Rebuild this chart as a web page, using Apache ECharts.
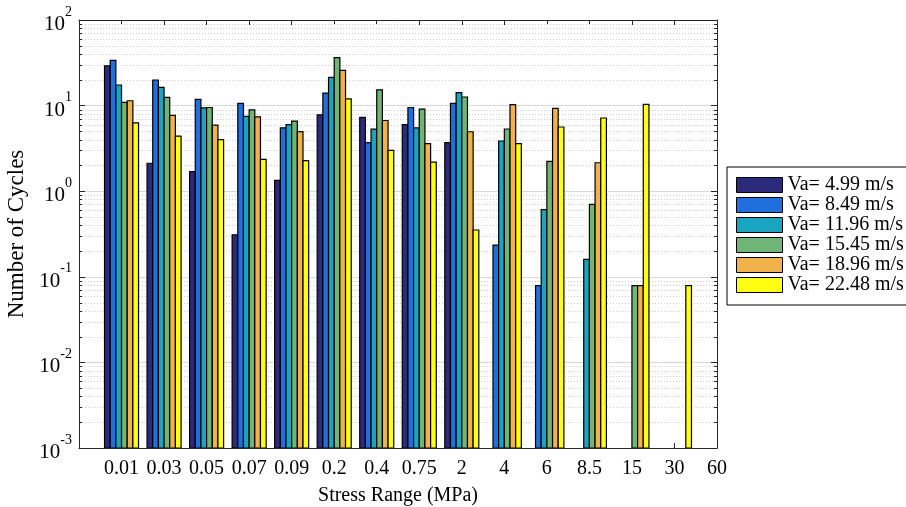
<!DOCTYPE html>
<html>
<head>
<meta charset="utf-8">
<script src="https://cdn.jsdelivr.net/npm/echarts@6/dist/echarts.min.js"></script>
<style>
  html, body { margin: 0; padding: 0; background: #ffffff; }
  #chart { width: 906px; height: 507px; }
</style>
</head>
<body>
<div id="chart"></div>
<script>
// Stress range classes along the x axis
const stressRanges = ['0.01', '0.03', '0.05', '0.07', '0.09', '0.2', '0.4', '0.75', '2', '4', '6', '8.5', '15', '30', '60'];

// Wind speed series names
const seriesNames = ['Va= 4.99 m/s', 'Va= 8.49 m/s', 'Va= 11.96 m/s', 'Va= 15.45 m/s', 'Va= 18.96 m/s', 'Va= 22.48 m/s'];

// Number of cycles per stress range, one array per wind speed (null = no cycles)
const va499  = [29.2, 2.12, 1.69, 0.31, 1.34, 7.8, 7.3, 6.0, 3.7, null, null, null, null, null, null];
const va849  = [33.8, 19.9, 11.8, 10.6, 5.5, 14.0, 3.7, 9.5, 10.6, 0.235, 0.079, null, null, null, null];
const va1196 = [17.4, 16.3, 9.4, 7.5, 6.0, 21.4, 5.3, 5.5, 14.2, 3.86, 0.61, 0.16, null, null, null];
const va1545 = [10.9, 12.5, 9.5, 8.9, 6.6, 36.3, 15.3, 9.1, 12.6, 5.33, 2.23, 0.70, 0.079, null, null];
const va1896 = [11.4, 7.7, 5.9, 7.4, 4.96, 25.8, 6.7, 3.6, 4.95, 10.25, 9.3, 2.15, 0.079, null, null];
const va2248 = [6.3, 4.4, 4.0, 2.36, 2.27, 12.0, 3.0, 2.19, 0.352, 3.59, 5.62, 7.16, 10.35, 0.079, null];

// Log axis range (decades)
const yMin = 0.001;
const yMax = 100;

const seriesValues = [va499, va849, va1196, va1545, va1896, va2248];
const colors = ['#2c2a7b', '#1f6fdc', '#19a5c1', '#70b575', '#f1b24c', '#ffff14'];
const fontFamily = "'Liberation Serif', 'Times New Roman', serif";

// Leading blank slot keeps the first class one band in from the left edge
const xCategories = [''].concat(stressRanges);
const groupFraction = 0.8;

function makeRenderItem(k, count) {
  return function (params, api) {
    const idx = api.value(0);
    const val = api.value(1);
    if (val == null || isNaN(val)) return;
    const band = api.size([1, 0])[0];
    const w = band * groupFraction / count;
    const top = api.coord([idx, val]);
    const base = api.coord([idx, yMin]);
    const x = top[0] - band * groupFraction / 2 + k * w;
    return {
      type: 'rect',
      shape: { x: x, y: top[1], width: w, height: base[1] - top[1] },
      style: { fill: colors[k], stroke: '#000000', lineWidth: 1.2 }
    };
  };
}

const series = seriesValues.map(function (vals, k) {
  return {
    name: seriesNames[k],
    type: 'custom',
    xAxisIndex: 0,
    yAxisIndex: 0,
    itemStyle: { color: colors[k] },
    renderItem: makeRenderItem(k, seriesValues.length),
    clip: true,
    z: 3,
    data: vals.map(function (v, i) { return [i + 1, v]; })
  };
});

const chart = echarts.init(document.getElementById('chart'), null, { renderer: 'canvas' });

const labelRich = {
  b: { fontFamily: fontFamily, fontSize: 21, color: '#000', verticalAlign: 'bottom', lineHeight: 30 },
  s: { fontFamily: fontFamily, fontSize: 14, color: '#000', verticalAlign: 'top', lineHeight: 30 }
};

chart.setOption({
  animation: false,
  backgroundColor: '#ffffff',
  grid: { left: 79, right: 189, top: 20, bottom: 59, containLabel: false, outerBoundsMode: 'none' },
  legend: {
    orient: 'vertical',
    left: 727,
    top: 167,
    padding: [8, 40, 10, 9],
    itemWidth: 46,
    itemHeight: 15,
    itemGap: 0,
    icon: 'rect',
    borderColor: '#000000',
    borderWidth: 1,
    backgroundColor: '#ffffff',
    itemStyle: { borderColor: '#000000', borderWidth: 1 },
    textStyle: { fontFamily: fontFamily, fontSize: 20, color: '#000000' },
    data: seriesNames
  },
  xAxis: [
    {
      type: 'category',
      data: xCategories,
      boundaryGap: false,
      position: 'bottom',
      name: 'Stress Range (MPa)',
      nameLocation: 'middle',
      nameGap: 38,
      nameTextStyle: { fontFamily: fontFamily, fontSize: 20, color: '#000' },
      axisLine: { show: true, lineStyle: { color: '#262626', width: 1 } },
      axisTick: { show: true, inside: true, length: 5, interval: 0, lineStyle: { color: '#262626' } },
      axisLabel: { interval: 0, margin: 11, fontFamily: fontFamily, fontSize: 20, color: '#000' },
      splitLine: { show: false }
    },
    {
      type: 'category',
      data: xCategories,
      boundaryGap: false,
      position: 'top',
      axisLine: { show: true, lineStyle: { color: '#262626', width: 1 } },
      axisTick: { show: true, inside: true, length: 5, interval: 0, lineStyle: { color: '#262626' } },
      axisLabel: { show: false },
      splitLine: { show: false }
    }
  ],
  yAxis: [
    {
      type: 'log',
      logBase: 10,
      min: yMin,
      max: yMax,
      position: 'left',
      name: 'Number of Cycles',
      nameLocation: 'middle',
      nameGap: 48,
      nameRotate: 90,
      nameTextStyle: { fontFamily: fontFamily, fontSize: 23, color: '#000' },
      axisLine: { show: true, lineStyle: { color: '#262626', width: 1 } },
      axisTick: { show: true, inside: true, length: 6, lineStyle: { color: '#262626' } },
      minorTick: { show: false },
      axisLabel: {
        margin: 7,
        formatter: function (v) {
          const e = Math.round(Math.log10(v));
          return '{b|10}{s|' + e + '}';
        },
        rich: labelRich
      },
      splitLine: { show: true, lineStyle: { color: '#d9d9d9', width: 1, type: 'solid' } }
    },
    {
      type: 'log',
      logBase: 10,
      min: yMin,
      max: yMax,
      position: 'right',
      axisLine: { show: true, lineStyle: { color: '#262626', width: 1 } },
      axisTick: { show: true, inside: true, length: 6, lineStyle: { color: '#262626' } },
      axisLabel: { show: false },
      splitLine: { show: false }
    }
  ],
  series: series
});

// Minor log grid lines (2..9 in each decade) and matching inward minor ticks
function drawMinorGrid() {
  const xLeft = chart.convertToPixel({ xAxisIndex: 0 }, 0);
  const xRight = chart.convertToPixel({ xAxisIndex: 0 }, xCategories.length - 1);
  const elements = [];
  const dLo = Math.round(Math.log10(yMin));
  const dHi = Math.round(Math.log10(yMax));
  for (let d = dLo; d < dHi; d++) {
    for (let m = 2; m <= 9; m++) {
      const v = m * Math.pow(10, d);
      const y = Math.round(chart.convertToPixel({ yAxisIndex: 0 }, v)) + 0.5;
      elements.push({
        type: 'line', z: 1, silent: true,
        shape: { x1: xLeft, y1: y, x2: xRight, y2: y },
        style: { stroke: '#cccccc', lineWidth: 1, lineDash: [1, 2] }
      });
      elements.push({
        type: 'line', z: 10, silent: true,
        shape: { x1: xLeft, y1: y, x2: xLeft + 3, y2: y },
        style: { stroke: '#262626', lineWidth: 1 }
      });
      elements.push({
        type: 'line', z: 10, silent: true,
        shape: { x1: xRight - 3, y1: y, x2: xRight, y2: y },
        style: { stroke: '#262626', lineWidth: 1 }
      });
    }
  }
  chart.setOption({ graphic: elements });
}
drawMinorGrid();
</script>
</body>
</html>
